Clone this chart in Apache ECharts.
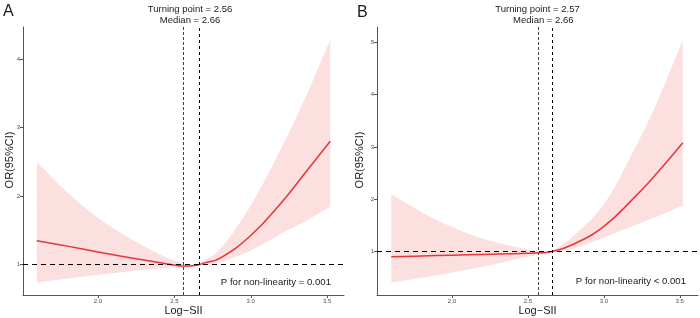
<!DOCTYPE html>
<html><head><meta charset="utf-8">
<script src="https://cdn.jsdelivr.net/npm/echarts@6/dist/echarts.min.js"></script>
<style>html,body{margin:0;padding:0;background:#fff}#c{width:700px;height:318px}</style>
</head><body><div id="c"></div>
<script>
// Panel A data
const xA  = [1.6, 1.8, 2.0, 2.2, 2.4, 2.5, 2.56, 2.62, 2.7, 2.8, 3.0, 3.2, 3.35, 3.52];
const orA = [1.345, 1.265, 1.18, 1.10, 1.025, 0.99, 0.975, 0.978, 1.02, 1.09, 1.42, 1.90, 2.32, 2.80];
const upA = [2.50, 2.05, 1.68, 1.39, 1.15, 1.05, 1.005, 1.0, 1.06, 1.22, 1.86, 2.70, 3.40, 4.28];
const loA = [0.73, 0.79, 0.845, 0.895, 0.94, 0.955, 0.957, 0.962, 0.99, 1.03, 1.20, 1.45, 1.62, 1.84];
// Panel B data
const xB  = [1.6, 1.8, 2.0, 2.2, 2.4, 2.5, 2.57, 2.66, 2.8, 3.0, 3.2, 3.35, 3.52];
const orB = [0.90, 0.915, 0.93, 0.945, 0.96, 0.968, 0.975, 1.0, 1.14, 1.48, 2.03, 2.50, 3.08];
const upB = [2.10, 1.75, 1.47, 1.25, 1.10, 1.04, 1.0, 1.02, 1.30, 1.90, 2.95, 3.85, 5.04];
const loB = [0.41, 0.50, 0.60, 0.71, 0.84, 0.90, 0.94, 0.98, 1.06, 1.27, 1.50, 1.67, 1.88];
// Ticks and reference lines
const xTicks  = [2.0, 2.5, 3.0, 3.5];
const yTicksA = [1, 2, 3, 4];
const yTicksB = [1, 2, 3, 4, 5];
const turnA = 2.56, medA = 2.66, turnB = 2.57, medB = 2.66;
const pA = 'P for non-linearity = 0.001';
const pB = 'P for non-linearity < 0.001';

const FONT = 'Liberation Sans, Arial, sans-serif';
const RED = '#e8353b';
const BAND = '#fcdfdf';
const AX = '#555';

function xAxisDef(g, mn, mx) {
  return {
    gridIndex: g, type: 'value', min: mn, max: mx,
    splitLine: {show: false},
    axisLine: {show: true, onZero: false, lineStyle: {color: AX, width: 1}},
    axisTick: {show: true, length: 3, customValues: xTicks, lineStyle: {color: AX}},
    axisLabel: {show: true, customValues: xTicks, fontSize: 6, color: '#4d4d4d', margin: 3,
      fontFamily: FONT, formatter: v => v.toFixed(1)}
  };
}
function yAxisDef(g, mn, mx, ticks) {
  return {
    gridIndex: g, type: 'value', min: mn, max: mx,
    splitLine: {show: false},
    axisLine: {show: true, onZero: false, lineStyle: {color: AX, width: 1}},
    axisTick: {show: true, length: 3, customValues: ticks, lineStyle: {color: AX}},
    axisLabel: {show: true, customValues: ticks, fontSize: 6, color: '#4d4d4d', margin: 3,
      fontFamily: FONT, formatter: v => String(v)}
  };
}
function panelSeries(g, xs, ors, ups, los, turn, med) {
  const line = xs.map((x, i) => [x, ors[i]]);
  return [
    {type: 'custom', coordinateSystem: 'cartesian2d', xAxisIndex: g, yAxisIndex: g,
     data: [[xs[0], los[0]]], encode: {x: 0, y: 1}, silent: true, z: 1,
     renderItem: function (params, api) {
       const top = xs.map((x, i) => api.coord([x, ups[i]]));
       const bot = xs.map((x, i) => api.coord([x, los[i]])).reverse();
       const pts = [top[0]].concat(top, [top[top.length - 1], bot[0]], bot, [bot[bot.length - 1]]);
       return {type: 'polygon', shape: {points: pts, smooth: 0.35}, style: {fill: BAND}, silent: true};
     }},
    {type: 'line', xAxisIndex: g, yAxisIndex: g, data: line, symbol: 'none', smooth: 0.45,
     lineStyle: {color: RED, width: 1.5}, silent: true, z: 3,
     markLine: {
       silent: true, symbol: 'none', label: {show: false}, animation: false,
       data: [
         {yAxis: 1, lineStyle: {color: '#000', width: 1.1, type: [5, 4]}},
         {xAxis: turn, lineStyle: {color: '#444', width: 1, type: [3, 2]}},
         {xAxis: med, lineStyle: {color: '#000', width: 1, type: [3, 3]}}
       ]
     }}
  ];
}
function txt(x, y, s, size, align, extra) {
  return Object.assign({type: 'text', x: x, y: y, silent: true,
    style: {text: s, font: size + 'px ' + FONT, fill: '#1a1a1a', align: align || 'center', verticalAlign: 'middle'}}, extra || {});
}

const chart = echarts.init(document.getElementById('c'), null, {renderer: 'canvas'});
chart.setOption({
  animation: false,
  backgroundColor: '#fff',
  grid: [
    {left: 23, top: 27, width: 321, height: 268},
    {left: 377, top: 27, width: 321, height: 268}
  ],
  xAxis: [xAxisDef(0, 1.51, 3.61), xAxisDef(1, 1.506, 3.62)],
  yAxis: [yAxisDef(0, 0.55, 4.47, yTicksA), yAxisDef(1, 0.17, 5.29, yTicksB)],
  series: [
    ...panelSeries(0, xA, orA, upA, loA, turnA, medA),
    ...panelSeries(1, xB, orB, upB, loB, turnB, medB)
  ],
  graphic: [
    txt(3, 12, 'A', 16, 'left'),
    txt(357, 12.5, 'B', 16, 'left'),
    txt(190, 9, 'Turning point = ' + turnA, 9.5),
    txt(190, 20, 'Median = ' + medA, 9.5),
    txt(537.5, 9, 'Turning point = ' + turnB, 9.5),
    txt(543.3, 20, 'Median = ' + medB, 9.5),
    txt(331, 282.3, pA, 9.6, 'right'),
    txt(686, 281.7, pB, 9.6, 'right'),
    txt(183.5, 310.5, 'Log\u2212SII', 11),
    txt(537.5, 310.5, 'Log\u2212SII', 11),
    txt(10, 160, 'OR(95%CI)', 11, 'center', {rotation: Math.PI / 2}),
    txt(360, 160, 'OR(95%CI)', 11, 'center', {rotation: Math.PI / 2})
  ]
});
</script></body></html>
